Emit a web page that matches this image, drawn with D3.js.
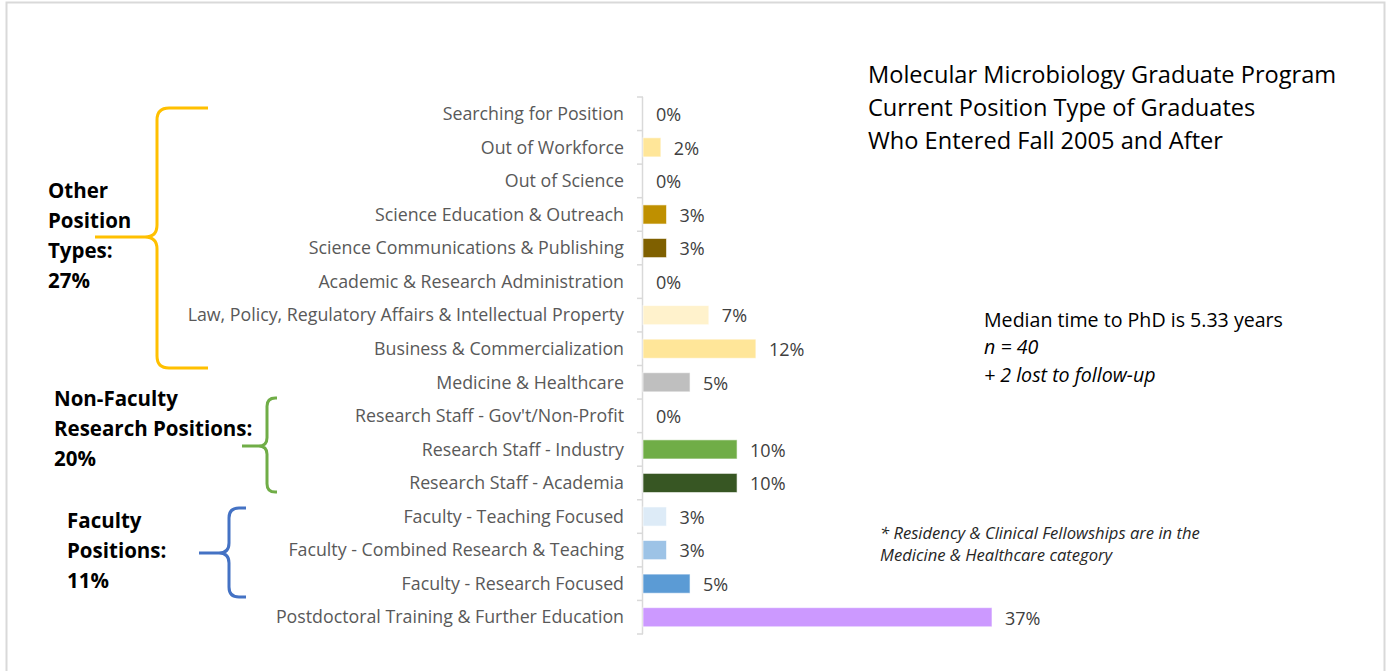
<!DOCTYPE html>
<html>
<head>
<meta charset="utf-8">
<script src="https://cdn.jsdelivr.net/npm/d3@7"></script>
<style>
  body { margin: 0; background: #fff; }
  svg text { font-family: "Open Sans", sans-serif; }
</style>
</head>
<body>
<div id="chart"></div>
<script>
// categories top to bottom, values in percent
var categories = [
  "Searching for Position",
  "Out of Workforce",
  "Out of Science",
  "Science Education & Outreach",
  "Science Communications & Publishing",
  "Academic & Research Administration",
  "Law, Policy, Regulatory Affairs & Intellectual Property",
  "Business & Commercialization",
  "Medicine & Healthcare",
  "Research Staff - Gov't/Non-Profit",
  "Research Staff - Industry",
  "Research Staff - Academia",
  "Faculty - Teaching Focused",
  "Faculty - Combined Research & Teaching",
  "Faculty - Research Focused",
  "Postdoctoral Training & Further Education"
];
var values = [0, 1.9, 0, 2.5, 2.5, 0, 7, 12, 5, 0, 10, 10, 2.5, 2.5, 5, 37.1];
var valueLabels = ["0%", "2%", "0%", "3%", "3%", "0%", "7%", "12%", "5%", "0%", "10%", "10%", "3%", "3%", "5%", "37%"];
var barColors = ["#FFE699", "#FFE699", "#FFE699", "#BF9000", "#7F6000", "#FFE699", "#FFF2CC", "#FFE699",
                 "#BFBFBF", "#A9D18E", "#70AD47", "#375623", "#DDEBF7", "#9DC3E6", "#5B9BD5", "#CC99FF"];

var titleLines = ["Molecular Microbiology Graduate Program", "Current Position Type of Graduates", "Who Entered Fall 2005 and After"];

// bracketed groups: label lines and brace colour
var groups = [
  {lines: ["Other", "Position", "Types:", "27%"], color: "#FFC000"},
  {lines: ["Non-Faculty", "Research Positions:", "20%"], color: "#70AD47"},
  {lines: ["Faculty", "Positions:", "11%"], color: "#4472C4"}
];

var W = 1390, H = 671;
var svg = d3.select("#chart").append("svg").attr("width", W).attr("height", H);

// frame
svg.append("rect")
  .attr("x", 6.5).attr("y", 2.5).attr("width", 1378).attr("height", 700)
  .attr("fill", "none").attr("stroke", "#d9d9d9").attr("stroke-width", 2);

var x0 = 643;
var x = d3.scaleLinear().domain([0, 37.1]).range([x0, 992]);
var y = d3.scaleBand().domain(categories).range([97, 634]).paddingInner(0.43).paddingOuter(0.215);
var yBand = d3.scaleBand().domain(categories).range([97, 634]); // for ticks / centres

// axis with ticks at band boundaries
var axisG = svg.append("g");
axisG.append("line").attr("x1", x0 - 0.5).attr("x2", x0 - 0.5).attr("y1", 97).attr("y2", 634)
  .attr("stroke", "#d9d9d9").attr("stroke-width", 1.5);
d3.range(categories.length + 1).forEach(function(i){
  var yy = 97 + i * yBand.step();
  axisG.append("line").attr("x1", x0 - 6).attr("x2", x0).attr("y1", yy).attr("y2", yy)
    .attr("stroke", "#d9d9d9").attr("stroke-width", 1.5);
});

// category labels
svg.selectAll("text.cat").data(categories).enter().append("text")
  .attr("class", "cat")
  .attr("x", 624)
  .attr("y", function(d){ return yBand(d) + yBand.bandwidth() / 2; })
  .attr("dy", "0.35em")
  .attr("text-anchor", "end")
  .attr("font-size", 17.8)
  .attr("fill", "#595959")
  .text(function(d){ return d; });

// bars
svg.selectAll("rect.bar").data(values).enter().append("rect")
  .attr("class", "bar")
  .attr("x", x0)
  .attr("y", function(d, i){ return y(categories[i]); })
  .attr("width", function(d){ return x(d) - x0; })
  .attr("height", y.bandwidth())
  .attr("fill", function(d, i){ return barColors[i]; })
  .attr("stroke", "#fff").attr("stroke-opacity", 0.6).attr("stroke-width", 1);

// value labels
svg.selectAll("text.val").data(values).enter().append("text")
  .attr("class", "val")
  .attr("x", function(d){ return x(d) + 13; })
  .attr("y", function(d, i){ return yBand(categories[i]) + yBand.bandwidth() / 2 + 1; })
  .attr("dy", "0.35em")
  .attr("font-size", 18)
  .attr("fill", "#404040")
  .text(function(d, i){ return valueLabels[i]; });

// title
svg.append("g").selectAll("text").data(titleLines).enter().append("text")
  .attr("x", 868)
  .attr("y", function(d, i){ return 75 + i * 33; })
  .attr("dy", "0.35em")
  .attr("font-size", 23.6)
  .attr("fill", "#000")
  .text(function(d){ return d; });

// notes
var notes = svg.append("g").attr("fill", "#000");
notes.append("text").attr("x", 984).attr("y", 320).attr("dy", "0.35em").attr("font-size", 19.6)
  .text("Median time to PhD is 5.33 years");
notes.append("text").attr("x", 984).attr("y", 347).attr("dy", "0.35em").attr("font-size", 19.6)
  .attr("font-style", "italic").text("n = 40");
notes.append("text").attr("x", 984).attr("y", 375).attr("dy", "0.35em").attr("font-size", 19.6)
  .attr("font-style", "italic").text("+ 2 lost to follow-up");
notes.append("text").attr("x", 880).attr("y", 533).attr("dy", "0.35em").attr("font-size", 16.6)
  .attr("font-style", "italic").attr("fill", "#262626").text("* Residency & Clinical Fellowships are in the");
notes.append("text").attr("x", 880).attr("y", 555).attr("dy", "0.35em").attr("font-size", 16.6)
  .attr("font-style", "italic").attr("fill", "#262626").text("Medicine & Healthcare category");

// braces and group labels
var braceGeo = [
  {top: 108, bot: 368, vx: 157, rx: 208, tip: 95, mid: 237, lx: 48, ly: 191},
  {top: 398, bot: 492, vx: 267, rx: 277, tip: 242, mid: 446, lx: 54, ly: 399},
  {top: 508, bot: 597, vx: 229, rx: 246, tip: 199, mid: 553, lx: 67, ly: 521}
];
groups.forEach(function(g, k){
  var b = braceGeo[k];
  var r = Math.min(12, (b.vx - b.tip) / 3);
  var p = d3.path();
  p.moveTo(b.rx, b.top);
  p.lineTo(b.vx + r, b.top);
  p.quadraticCurveTo(b.vx, b.top, b.vx, b.top + r);
  p.lineTo(b.vx, b.mid - r);
  p.quadraticCurveTo(b.vx, b.mid, b.vx - r, b.mid);
  p.lineTo(b.tip, b.mid);
  p.moveTo(b.vx - r, b.mid);
  p.quadraticCurveTo(b.vx, b.mid, b.vx, b.mid + r);
  p.lineTo(b.vx, b.bot - r);
  p.quadraticCurveTo(b.vx, b.bot, b.vx + r, b.bot);
  p.lineTo(b.rx, b.bot);
  svg.append("path").attr("d", p.toString()).attr("fill", "none")
    .attr("stroke", g.color).attr("stroke-width", 3);

  svg.append("g").selectAll("text").data(g.lines).enter().append("text")
    .attr("x", b.lx)
    .attr("y", function(d, i){ return b.ly + i * 30; })
    .attr("dy", "0.35em")
    .attr("font-size", 20.5)
    .attr("font-weight", "bold")
    .attr("fill", "#000")
    .text(function(d){ return d; });
});
</script>
</body>
</html>
